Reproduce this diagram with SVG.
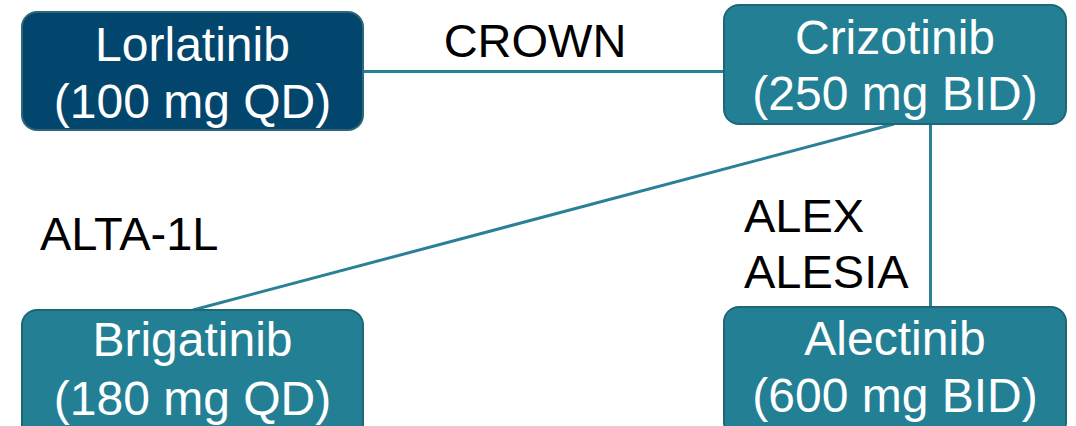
<svg xmlns="http://www.w3.org/2000/svg" width="1076" height="426" viewBox="0 0 1076 426">
<style>
.box{stroke-width:2}
.dark{fill:#03466D;stroke:#2E6878}
.teal{fill:#237F94;stroke:#1E6776}
.nt{font-family:"Liberation Sans",Arial,sans-serif;font-size:48px;fill:#FFFFFF;text-anchor:middle}
.lb{font-family:"Liberation Sans",Arial,sans-serif;font-size:47px;fill:#000000}
.conn{stroke:#2A8196;stroke-width:3;fill:none}
</style>
<rect width="1076" height="426" fill="#FFFFFF"/>
<g id="connectors">
<line class="conn" x1="363" y1="71.5" x2="724" y2="71.5"/>
<line class="conn" x1="894" y1="124" x2="193" y2="310"/>
<line class="conn" x1="930.5" y1="124" x2="930.5" y2="307"/>
</g>
<g id="lorlatinib">
<rect class="box dark" x="22" y="12" width="341" height="118" rx="15"/>
<text class="nt" x="192.5" y="61">Lorlatinib</text>
<text class="nt" x="192.5" y="118">(100 mg QD)</text>
</g>
<g id="crizotinib">
<rect class="box teal" x="724" y="5" width="342" height="119" rx="15"/>
<text class="nt" x="895" y="54">Crizotinib</text>
<text class="nt" x="895" y="110">(250 mg BID)</text>
</g>
<g id="brigatinib">
<rect class="box teal" x="22" y="310" width="341" height="130" rx="15"/>
<text class="nt" x="192.5" y="356">Brigatinib</text>
<text class="nt" x="192.5" y="415">(180 mg QD)</text>
</g>
<g id="alectinib">
<rect class="box teal" x="724" y="307" width="342" height="130" rx="15"/>
<text class="nt" x="895" y="355">Alectinib</text>
<text class="nt" x="895" y="412">(600 mg BID)</text>
</g>
<g id="labels">
<text class="lb" x="535" y="57" text-anchor="middle">CROWN</text>
<text class="lb" x="40" y="250">ALTA-1L</text>
<text class="lb" x="744" y="232">ALEX</text>
<text class="lb" x="744" y="288">ALESIA</text>
</g>
</svg>
